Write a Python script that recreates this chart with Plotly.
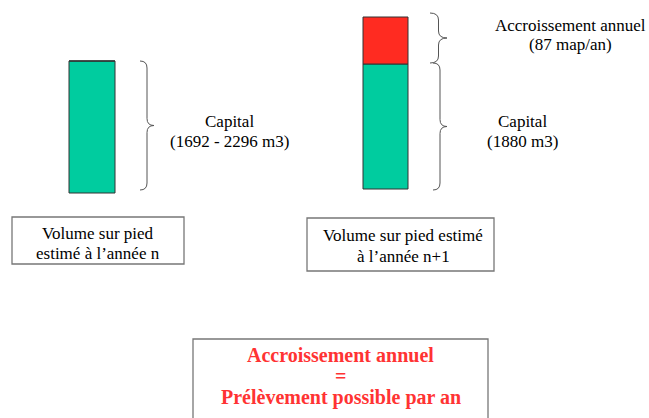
import plotly.graph_objects as go

# ---- data (schematic values, display units) ----
stages = ["année n", "année n+1"]
capital_height = [132, 125]      # height of capital bar (schematic)
increment_height = [0, 47]       # annual increment (schematic)
capital_lines = [["Capital", "(1692 - 2296 m3)"], ["Capital", "(1880 m3)"]]
increment_lines = ["Accroissement annuel", "(87 map/an)"]
box_lines = [["Volume sur pied", "estimé à l’année n"], ["Volume sur pied estimé", "à l’année n+1"]]
conclusion_lines = ["Accroissement annuel", "=", "Prélèvement possible par an"]

W, H = 649, 418
def Y(py):
    return H - py

bar_x = [92, 385.5]
bar_w = [46, 45]
bar_bottom_px = [193, 189]

GREEN = "#00CC9F"
RED = "#FF2B21"
FONT = "Liberation Serif"

fig = go.Figure()
fig.add_trace(go.Bar(
    x=bar_x, y=capital_height, base=[Y(b) for b in bar_bottom_px], width=bar_w,
    marker=dict(color=GREEN, line=dict(color="#333333", width=1)), showlegend=False,
    hoverinfo="skip"))
fig.add_trace(go.Bar(
    x=bar_x, y=increment_height,
    base=[Y(b) + c for b, c in zip(bar_bottom_px, capital_height)], width=bar_w,
    marker=dict(color=RED, line=dict(color="#333333", width=1)), showlegend=False,
    hoverinfo="skip"))

def brace(x0, x1, top, bottom):
    t, b = Y(top), Y(bottom)
    m = (t + b) / 2
    xm = (x0 + x1) / 2
    r = min(7, (t - b) / 4)
    return (f"M {x0},{t} Q {xm},{t} {xm},{t - r} L {xm},{m + r} "
            f"Q {xm},{m} {x1},{m} Q {xm},{m} {xm},{m - r} "
            f"L {xm},{b + r} Q {xm},{b} {x0},{b}")

shapes = [
    dict(type="path", path=brace(140, 154, 61, 190), line=dict(color="#555555", width=1)),
    dict(type="path", path=brace(430, 447, 13, 63), line=dict(color="#555555", width=1)),
    dict(type="path", path=brace(433, 447, 63, 190), line=dict(color="#555555", width=1)),
    dict(type="rect", x0=12, x1=184, y0=Y(217), y1=Y(264), line=dict(color="#777777", width=1.3), fillcolor="white"),
    dict(type="rect", x0=307, x1=494, y0=Y(218), y1=Y(271), line=dict(color="#777777", width=1.3), fillcolor="white"),
    dict(type="rect", x0=193, x1=488, y0=Y(339), y1=Y(430), line=dict(color="#777777", width=1.3), fillcolor="white"),
]
for s in shapes:
    s["xref"] = "x"; s["yref"] = "y"
    if s["type"] == "rect":
        s["layer"] = "below"
fig.update_layout(shapes=shapes)

def ann(x, py, text, size=17, color="black", bold=False):
    if bold:
        text = "<b>" + text + "</b>"
    fig.add_annotation(x=x, y=Y(py), text=text, showarrow=False, xref="x", yref="y",
                       font=dict(family=FONT, size=size, color=color), align="center",
                       xanchor="center", yanchor="middle")

def block(x, py_list, lines, **kw):
    for py, t in zip(py_list, lines):
        ann(x, py, t, **kw)

block(229, [121, 141], capital_lines[0])
block(522, [121, 141], capital_lines[1])
block(570, [25, 44], increment_lines)
block(98, [233, 253], box_lines[0])
block(403, [235, 256], box_lines[1])
block(340.5, [355, 376, 397], conclusion_lines, size=20, color="#FF3333", bold=True)

fig.update_layout(
    width=W, height=H, margin=dict(l=0, r=0, t=0, b=0),
    paper_bgcolor="white", plot_bgcolor="white", barmode="overlay",
    xaxis=dict(range=[0, W], visible=False, fixedrange=True),
    yaxis=dict(range=[0, H], visible=False, fixedrange=True),
    hovermode=False,
)
fig.write_html("out.html", config={"displayModeBar": False, "staticPlot": True},
               post_script="document.body.style.margin='0';")
